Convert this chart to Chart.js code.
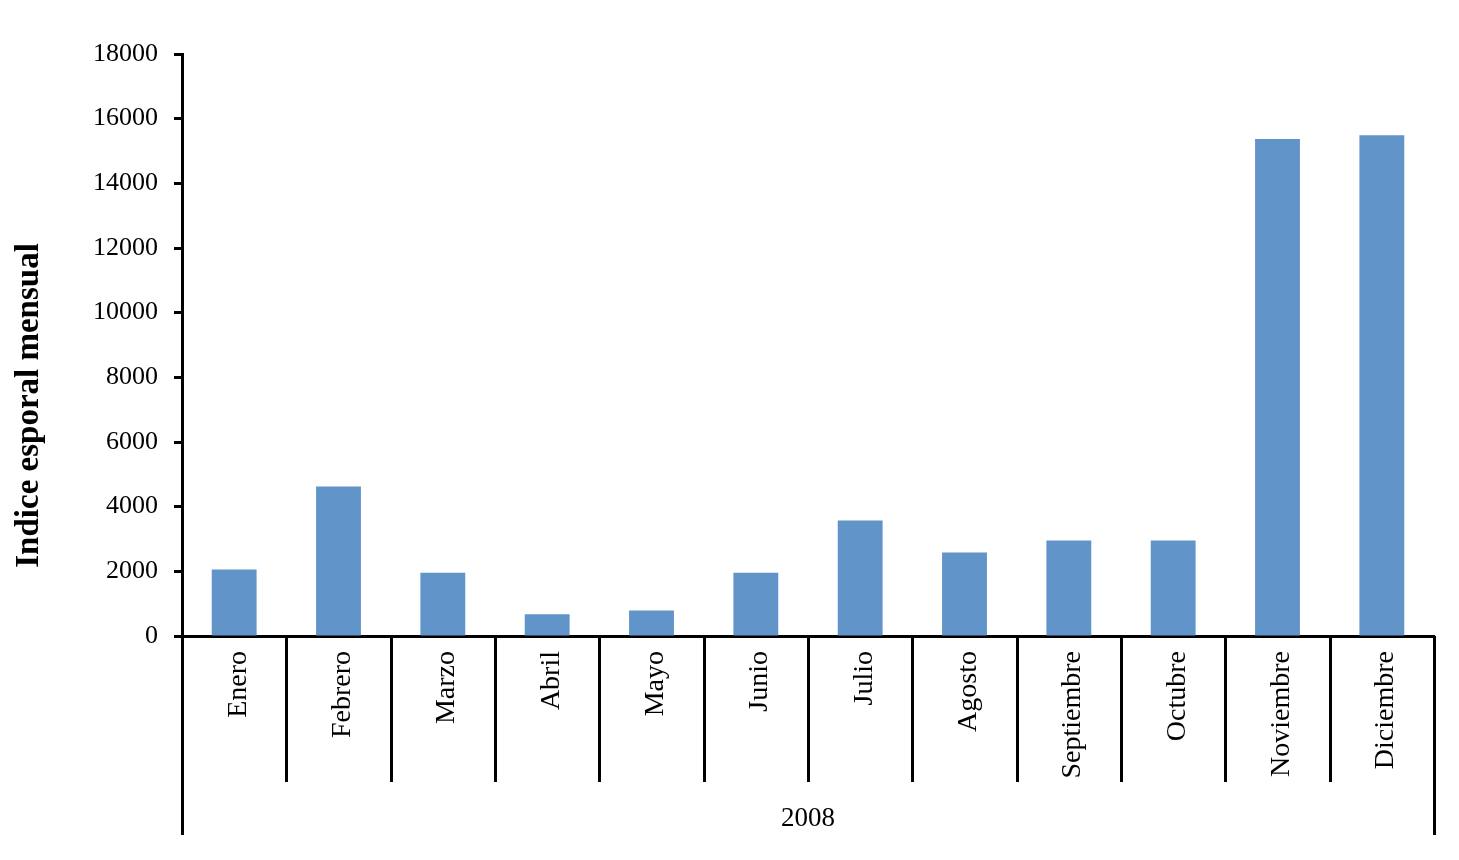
<!DOCTYPE html>
<html>
<head>
<meta charset="utf-8">
<script src="https://cdn.jsdelivr.net/npm/chart.js@4.4.1/dist/chart.umd.min.js"></script>
<style>
  html, body { margin: 0; padding: 0; background: #ffffff; }
  #wrap { width: 1459px; height: 860px; position: relative; }
</style>
</head>
<body>
<div id="wrap"><canvas id="c" width="1459" height="860"></canvas></div>
<script>
const categories = ["Enero", "Febrero", "Marzo", "Abril", "Mayo", "Junio", "Julio", "Agosto", "Septiembre", "Octubre", "Noviembre", "Diciembre"];
const indiceEsporal = [2060, 4620, 1960, 670, 790, 1960, 3570, 2580, 2950, 2950, 15370, 15490];
const yTicks = [0, 2000, 4000, 6000, 8000, 10000, 12000, 14000, 16000, 18000];
const yTitle = "Indice esporal mensual";
const groupLabel = "2008";

const FONT = "'Liberation Serif', 'Times New Roman', serif";

const dividerPlugin = {
  id: 'dividers',
  afterDraw(chart) {
    const x = chart.scales.x;
    const ctx = chart.ctx;
    const top = chart.chartArea.bottom;
    const n = categories.length;
    const half = (x.getPixelForValue(1) - x.getPixelForValue(0)) / 2;
    ctx.save();
    ctx.strokeStyle = '#000';
    ctx.lineWidth = 3;
    for (let i = 0; i <= n; i++) {
      const px = i < n ? x.getPixelForValue(i) - half : x.getPixelForValue(n - 1) + half;
      const outer = (i === 0 || i === n);
      ctx.beginPath();
      ctx.moveTo(Math.round(px) + 0.5, top);
      ctx.lineTo(Math.round(px) + 0.5, outer ? 835 : 782);
      ctx.stroke();
    }
    // y-axis title
    const y = chart.scales.y;
    ctx.font = "bold 33px " + FONT;
    ctx.fillStyle = '#000';
    ctx.textAlign = 'center';
    ctx.textBaseline = 'middle';
    ctx.translate(29, y.getPixelForValue(7130));
    ctx.rotate(-Math.PI / 2);
    ctx.fillText(yTitle, 0, 0);
    ctx.restore();
  }
};

new Chart(document.getElementById('c'), {
  type: 'bar',
  data: {
    labels: categories,
    datasets: [{
      data: indiceEsporal,
      backgroundColor: '#6194C8',
      borderWidth: 0,
      categoryPercentage: 1.0,
      barPercentage: 0.43
    }]
  },
  options: {
    responsive: false,
    animation: false,
    layout: { padding: { top: 54, right: 25, left: 0, bottom: 0 } },
    plugins: { legend: { display: false }, tooltip: { enabled: false } },
    scales: {
      x: {
        grid: { display: false, drawOnChartArea: false, drawTicks: false },
        border: { display: true, color: '#000', width: 3 },
        ticks: {
          color: '#000',
          font: { family: FONT, size: 28 },
          minRotation: 90,
          maxRotation: 90,
          padding: 15,
          labelOffset: 4,
          autoSkip: false
        },
        title: {
          display: true,
          text: groupLabel,
          color: '#000',
          font: { family: FONT, size: 27 },
          padding: { top: 0, bottom: 25 }
        },
        afterFit(scale) { scale.height = 224; }
      },
      y: {
        min: 0,
        max: 18000,
        afterBuildTicks(scale) { scale.ticks = yTicks.map(v => ({ value: v })); },
        grid: { drawOnChartArea: false, drawTicks: true, tickLength: 8, tickColor: '#000', tickWidth: 3 },
        border: { display: true, color: '#000', width: 3 },
        ticks: {
          color: '#000',
          font: { family: FONT, size: 26 },
          padding: 16,
          callback: (v) => String(v)
        },
        afterFit(scale) { scale.width = 182; }
      }
    }
  },
  plugins: [dividerPlugin]
});
</script>
</body>
</html>
